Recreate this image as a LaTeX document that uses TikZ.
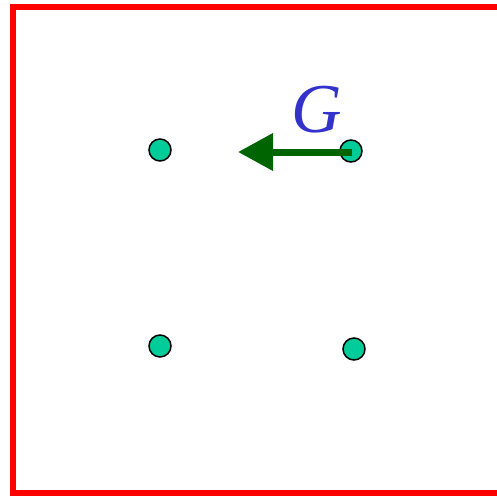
\documentclass[tikz,border=0pt]{standalone}
\usepackage{fontspec}
\setmainfont{Liberation Serif}
\usetikzlibrary{arrows.meta}
\definecolor{dotfill}{HTML}{00CC99}
\definecolor{arrgreen}{HTML}{006400}
\definecolor{labblue}{HTML}{3333CC}
\tikzset{
  particle/.style={circle, draw=black, line width=1.5pt, fill=dotfill, minimum size=22pt, inner sep=0pt},
  force/.style={draw=arrgreen, line width=7pt, -{Triangle[length=35pt,width=36pt]}},
  frame/.style={draw=red, line width=6pt}
}
\begin{document}
\begin{tikzpicture}[x=1pt,y=-1pt]
\useasboundingbox (0,0) rectangle (497,495);
\clip (0,0) rectangle (497,495);
\draw[frame] (13,7) rectangle (520,493);
\node[particle] (a) at (160,150) {};
\node[particle] (b) at (351,151) {};
\node[particle] (c) at (160,346) {};
\node[particle] (d) at (354,349) {};
\coordinate (tip) at (238,152);
\draw[force] (b.center) ++(1,1) coordinate (start) -- (tip);
\node[text=labblue, font=\fontsize{70}{74}\selectfont\itshape, inner sep=0pt] (g) at (317,110) {G};
\end{tikzpicture}
\end{document}
